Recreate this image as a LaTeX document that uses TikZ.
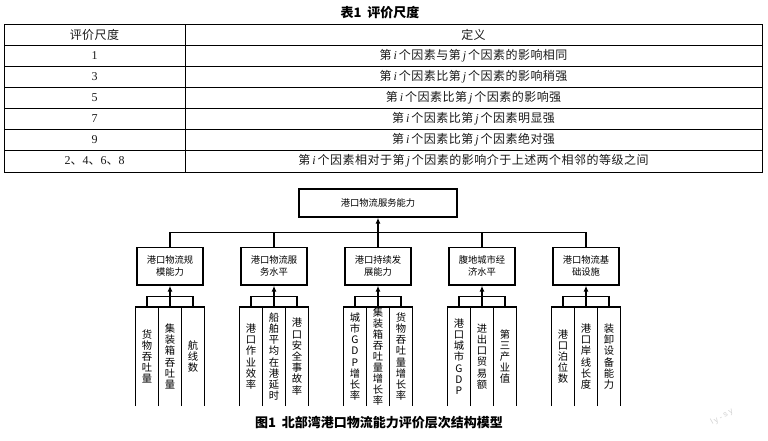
\documentclass[tikz,border=0pt]{standalone}
\usepackage{fontspec}
\setmainfont{Liberation Serif}
\newfontfamily\cjk{Noto Sans CJK SC}
\newfontfamily\cjkt[LetterSpace=4]{Noto Sans CJK SC}
\newfontfamily\wmfont[LetterSpace=25]{Liberation Sans}
\usetikzlibrary{arrows.meta}
\newcommand{\myi}{\,{\rmfamily\itshape i}\,}
\newcommand{\myj}{\,{\rmfamily\itshape j}\,}
\begin{document}
\begin{tikzpicture}[x=1pt,y=-1pt,
  tline/.style={line width=0.8pt,black},
  tcell/.style={inner sep=0pt,font=\cjkt\fontsize{12}{14}\selectfont,text=black!90},
  tnum/.style={inner sep=0pt,font=\rmfamily\fontsize{12}{14}\selectfont,text=black!90},
  mainbox/.style={draw,line width=1.3pt,minimum width=158pt,minimum height=28pt,inner sep=0pt,font=\cjk\fontsize{9.3}{12}\selectfont},
  midbox/.style={draw,line width=1.3pt,minimum width=66pt,minimum height=37.5pt,inner sep=0pt,align=center,font=\cjk\fontsize{9.3}{12}\selectfont},
  leaf/.style={minimum width=23pt,minimum height=99pt,inner sep=0pt,align=center,font=\cjk\fontsize{10.3}{11.2}\selectfont},
  leafline/.style={line width=1.4pt},
  conn/.style={line width=1.3pt},
  arr/.style={conn,-{Latex[length=6pt,width=5pt]}},
  capt/.style={inner sep=0pt,font=\cjk\bfseries\fontsize{13}{15}\selectfont}
]
\useasboundingbox (0,0) rectangle (768,440);

% ---------- table ----------
\node[capt] (tabcap) at (380,13) {表1\ \ 评价尺度};
\draw[tline] (4,24) rectangle (762,172);
\foreach \yy in {45,66,87,108,129,150} \draw[tline] (4,\yy) -- (762,\yy);
\draw[tline] (185,24) -- (185,172);

\node[tcell] (h1) at (94.5,34.5) {评价尺度};
\node[tcell] (h2) at (473.5,34.5) {定义};
\node[tnum] (s1) at (94.5,55.5) {1};
\node[tnum] (s3) at (94.5,76.5) {3};
\node[tnum] (s5) at (94.5,97.5) {5};
\node[tnum] (s7) at (94.5,118.5) {7};
\node[tnum] (s9) at (94.5,139.5) {9};
\node[tnum] (s2) at (94.5,161) {2{\cjk 、}4{\cjk 、}6{\cjk 、}8};
\node[tcell] (d1) at (473.5,55.5) {第\myi 个因素与第\myj 个因素的影响相同};
\node[tcell] (d3) at (473.5,76.5) {第\myi 个因素比第\myj 个因素的影响稍强};
\node[tcell] (d5) at (473.5,97.5) {第\myi 个因素比第\myj 个因素的影响强};
\node[tcell] (d7) at (473.5,118.5) {第\myi 个因素比第\myj 个因素明显强};
\node[tcell] (d9) at (473.5,139.5) {第\myi 个因素比第\myj 个因素绝对强};
\node[tcell] (d2) at (473.5,161) {第\myi 个因素相对于第\myj 个因素的影响介于上述两个相邻的等级之间};

% ---------- hierarchy ----------
\node[mainbox] (top) at (378,203) {港口物流服务能力};
\coordinate (bus) at (378,232.5);

\node[midbox] (b1) at (170,266.25) {港口物流规\\模能力};
\node[midbox] (b2) at (274,266.25) {港口物流服\\务水平};
\node[midbox] (b3) at (378,266.25) {港口持续发\\展能力};
\node[midbox] (b4) at (482,266.25) {腹地城市经\\济水平};
\node[midbox] (b5) at (586,266.25) {港口物流基\\础设施};

\draw[conn] (b1.north) |- (bus) -| (b5.north);
\foreach \b in {b2,b3,b4} \draw[conn] (\b.north) -- (\b.north |- bus);
\draw[arr] (bus) -- (top.south);

% leaves
\node[leaf] (l11) at (147,356.5) {货\\物\\吞\\吐\\量};
\node[leaf] (l12) at (170,356.5) {集\\装\\箱\\吞\\吐\\量};
\node[leaf] (l13) at (193,356.5) {航\\线\\数};
\node[leaf] (l21) at (251,356.5) {港\\口\\作\\业\\效\\率};
\node[leaf] (l22) at (274,356.5) {船\\舶\\平\\均\\在\\港\\延\\时};
\node[leaf] (l23) at (297,356.5) {港\\口\\安\\全\\事\\故\\率};
\node[leaf] (l31) at (355,356.5) {城\\市\\G\\D\\P\\增\\长\\率};
\node[leaf,font=\cjk\fontsize{10.3}{10.9}\selectfont] (l32) at (378,356.5) {集\\装\\箱\\吞\\吐\\量\\增\\长\\率};
\node[leaf] (l33) at (401,356.5) {货\\物\\吞\\吐\\量\\增\\长\\率};
\node[leaf] (l41) at (459,356.5) {港\\口\\城\\市\\G\\D\\P};
\node[leaf] (l42) at (482,356.5) {进\\出\\口\\贸\\易\\额};
\node[leaf] (l43) at (505,356.5) {第\\三\\产\\业\\值};
\node[leaf] (l51) at (563,356.5) {港\\口\\泊\\位\\数};
\node[leaf] (l52) at (586,356.5) {港\\口\\岸\\线\\长\\度};
\node[leaf] (l53) at (609,356.5) {装\\卸\\设\\备\\能\\力};

\foreach \g in {1,...,5}{
  \foreach \k in {1,2,3}{
    \draw[leafline] (l\g\k.south west) -- (l\g\k.north west) -- (l\g\k.north east) -- (l\g\k.south east);
  }
  \draw[conn] (l\g1.north) -- ++(0,-10.3) -| (l\g3.north);
  \draw[arr] (l\g2.north) -- (b\g.south);
}

\node[capt] (figcap) at (379,423) {图1\ \ 北部湾港口物流能力评价层次结构模型};
\node[rotate=30,text=black!18,inner sep=0pt,font=\wmfont\fontsize{8}{9}\selectfont] (wm) at (722,417) {ly-sy};
\end{tikzpicture}
\end{document}
